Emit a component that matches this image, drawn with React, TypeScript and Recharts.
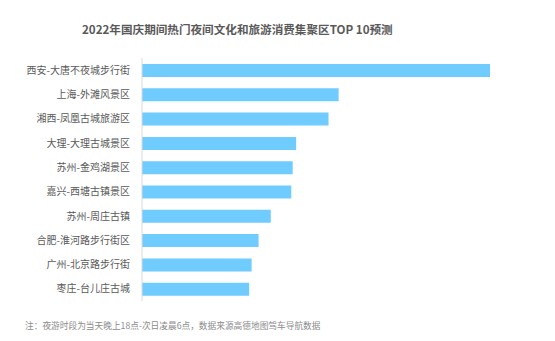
import React from 'react';
import { BarChart, Bar, XAxis, YAxis } from 'recharts';

const categories = [
  '西安-大唐不夜城步行街',
  '上海-外滩风景区',
  '湘西-凤凰古城旅游区',
  '大理-大理古城景区',
  '苏州-金鸡湖景区',
  '嘉兴-西塘古镇景区',
  '苏州-周庄古镇',
  '合肥-淮河路步行街区',
  '广州-北京路步行街',
  '枣庄-台儿庄古城',
];
const values = [100, 56.5, 53.6, 44.3, 43.3, 42.9, 37.0, 33.5, 31.5, 30.8];

const data = categories.map((name, i) => ({ name, value: values[i] }));

const font = '"Noto Sans CJK SC", "Noto Sans", sans-serif';

export default function App() {
  return (
    <div style={{ position: 'fixed', left: 0, top: 0, width: 555, height: 341, background: '#fff', fontFamily: font }}>
      <div
        style={{
          position: 'absolute', left: 82, top: 19, whiteSpace: 'nowrap',
          fontSize: 11.6, fontWeight: 700, color: '#595959', lineHeight: '20px',
        }}
      >
        2022年国庆期间热门夜间文化和旅游消费集聚区TOP 10预测
      </div>
      <BarChart
        width={555}
        height={341}
        data={data}
        layout="vertical"
        margin={{ top: 58, right: 65, bottom: 40, left: 0 }}
        barCategoryGap={11}
      >
        <XAxis type="number" domain={[0, 100]} hide />
        <YAxis
          type="category"
          dataKey="name"
          width={142}
          axisLine={{ stroke: '#d9d9d9' }}
          tickLine={false}
          tickMargin={6}
          tick={{ fill: '#595959', fontSize: 10, fontFamily: font }}
          interval={0}
        />
        <Bar dataKey="value" fill="#70CBFF" barSize={13} isAnimationActive={false} />
      </BarChart>
      <div
        style={{
          position: 'absolute', left: 25, top: 319, fontSize: 8.7, color: '#8c8c8c', lineHeight: '14px',
          whiteSpace: 'nowrap',
        }}
      >
        注：夜游时段为当天晚上18点-次日凌晨6点，数据来源高德地图驾车导航数据
      </div>
    </div>
  );
}
